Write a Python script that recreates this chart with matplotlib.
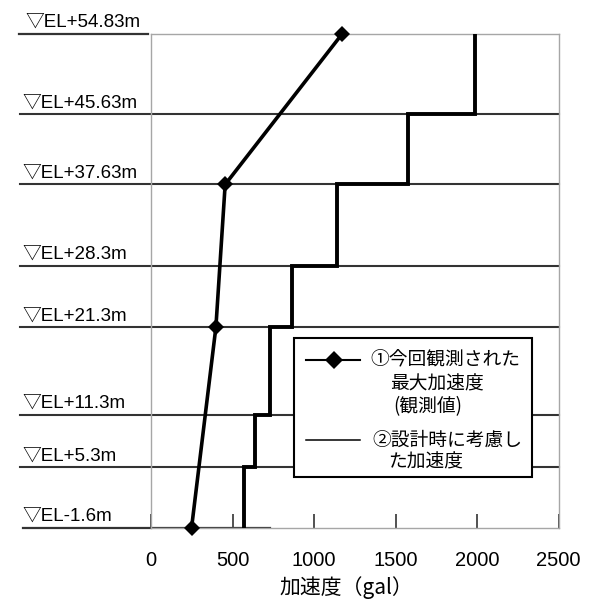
import matplotlib
matplotlib.use('Agg')
import matplotlib.pyplot as plt
from matplotlib.patches import Rectangle

plt.rcParams['font.family'] = ['Liberation Sans', 'Noto Sans CJK JP', 'DejaVu Sans']

# 標高 (m)
levels = [54.83, 45.63, 37.63, 28.3, 21.3, 11.3, 5.3, -1.6]
level_labels = ['▽EL+54.83m', '▽EL+45.63m', '▽EL+37.63m', '▽EL+28.3m',
                '▽EL+21.3m', '▽EL+11.3m', '▽EL+5.3m', '▽EL-1.6m']

# ① 観測された最大加速度 (gal)
obs_el = [54.83, 37.63, 21.3, -1.6]
obs_acc = [1172, 455, 398, 249]

# ② 設計時に考慮した加速度 (gal) : 各区間 上から順に
design_acc = [1990, 1576, 1143, 865, 733, 641, 568]
base_line_end = 730   # 最下段の基準線の右端 (gal)

xticks = [0, 500, 1000, 1500, 2000, 2500]

fig = plt.figure(figsize=(5.97, 6.08), dpi=100)
ax = fig.add_axes([0.2529, 0.1321, 0.6828, 0.812])
ax.set_xlim(0, 2500)
ax.set_ylim(-1.6, 54.83)

for s in ax.spines.values():
    s.set_color('#a6a6a6')
    s.set_linewidth(1.0)

ax.set_yticks([])
ax.set_xticks(xticks)
ax.tick_params(axis='x', direction='in', length=10, width=1.2, color='#333333',
               pad=17, labelsize=14.5)

# 標高の水平線とラベル
ytr = ax.get_yaxis_transform()
for i, (el, lab) in enumerate(zip(levels, level_labels)):
    if i == 0:
        ax.plot([-0.325, -0.007], [el, el], color='#333333', lw=1.6,
                transform=ytr, clip_on=False)
        x_lab = -0.309
    elif i == len(levels) - 1:
        ax.plot([-0.314, 0], [el, el], color='#333333', lw=1.6,
                transform=ytr, clip_on=False)
        ax.plot([0, base_line_end], [el, el], color='#333333', lw=1.6, zorder=2)
        x_lab = -0.316
    else:
        ax.plot([-0.322, 1.0], [el, el], color='#333333', lw=1.5,
                transform=ytr, clip_on=False)
        x_lab = -0.316
    ax.annotate(lab, xy=(x_lab, el), xycoords=ytr, xytext=(0, 5),
                textcoords='offset points', ha='left', va='baseline',
                fontsize=13.5, annotation_clip=False)

# ② 設計加速度 (階段状)
xs, ys = [], []
for k, a in enumerate(design_acc):
    xs += [a, a]
    ys += [levels[k], levels[k + 1]]
ax.plot(xs, ys, color='black', lw=2.8, zorder=3, solid_joinstyle='miter')

# ① 観測値
ax.plot(obs_acc, obs_el, color='black', lw=2.6, marker='D', ms=8,
        mew=0, zorder=4, clip_on=False)

# 凡例 (手描き)
fam = ['Noto Sans CJK JP', 'DejaVu Sans']


def fx(px):
    return (px - 151) / 407.6


def fy(py):
    return (527.7 - py) / 493.7


ta = ax.transAxes
ax.add_patch(Rectangle((fx(294), fy(477)), fx(532) - fx(294), fy(338) - fy(477),
                       transform=ta, facecolor='white', edgecolor='black',
                       lw=1.5, zorder=5))
ax.plot([fx(306), fx(360)], [fy(360), fy(360)], color='black', lw=1.5,
        transform=ta, zorder=6)
ax.plot([fx(334)], [fy(360)], marker='D', ms=9, color='black', mew=0,
        transform=ta, zorder=7)
ax.plot([fx(306), fx(360)], [fy(440), fy(440)], color='black', lw=1.1,
        transform=ta, zorder=6)

legend_texts = [
    ('①今回観測された', 370, 360, 'left'),
    ('最大加速度', 437, 384, 'center'),
    ('(観測値)', 428, 407, 'center'),
    ('②設計時に考慮し', 372, 440, 'left'),
    ('た加速度', 426, 462, 'center'),
]
for txt, px, py, ha in legend_texts:
    ax.text(fx(px), fy(py), txt, transform=ta, ha=ha, va='center',
            fontsize=13.5, family=fam, zorder=7)

ax.set_xlabel('加速度（gal）', fontsize=15, family=fam, va='center')
ax.xaxis.set_label_coords(fx(346), fy(588))

fig.savefig('out.png', dpi=100)
